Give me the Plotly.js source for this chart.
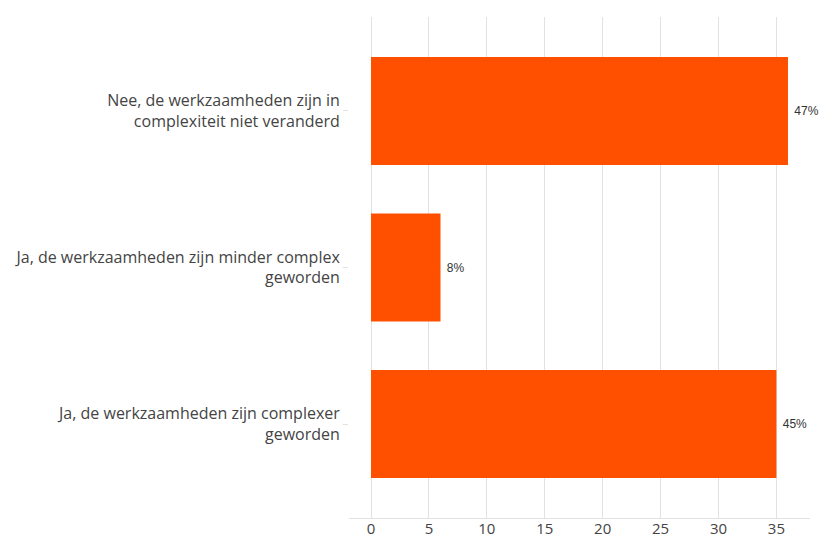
<!DOCTYPE html>
<html>
<head>
<meta charset="utf-8">
<script src="https://cdn.plot.ly/plotly-3.0.1.min.js"></script>
<style>
  html, body { margin: 0; padding: 0; background: #fff; }
  #chart { width: 819px; height: 540px; }
</style>
</head>
<body>
<div id="chart"></div>
<script>
// ── Data ──
const categories = [
    "Ja, de werkzaamheden zijn complexer<br>geworden",
    "Ja, de werkzaamheden zijn minder complex<br>geworden",
    "Nee, de werkzaamheden zijn in<br>complexiteit niet veranderd"
];
const counts = [35, 6, 36];
const pctLabels = ["45%", "8%", "47%"];
const tickVals = [0, 5, 10, 15, 20, 25, 30, 35];

// ── Chart ──
Plotly.newPlot("chart", [{
    type: "bar",
    orientation: "h",
    y: categories,
    x: counts,
    text: pctLabels.map(t => " " + t),
    textposition: "outside",
    constraintext: "none",
    cliponaxis: false,
    textfont: { family: "Arial, Liberation Sans, sans-serif", size: 12, color: "#333" },
    marker: { color: "#ff5000" },
    hoverinfo: "none"
}], {
    width: 819,
    height: 540,
    margin: { l: 349, r: 9, t: 17, b: 22 },
    paper_bgcolor: "#fff",
    plot_bgcolor: "#fff",
    bargap: 0.31,
    showlegend: false,
    font: { family: "Open Sans, sans-serif", color: "#444" },
    xaxis: {
        range: [-1.9, 37.9],
        tickvals: tickVals,
        ticks: "",
        ticklabelstandoff: -3,
        showgrid: true,
        gridcolor: "#e2e2e2",
        gridwidth: 1,
        zeroline: false,
        showline: true,
        linecolor: "#e2e2e2",
        linewidth: 1,
        tickfont: { size: 15, color: "#444" }
    },
    yaxis: {
        range: [-0.6, 2.6],
        ticks: "outside",
        ticklen: 5,
        tickcolor: "#e2e2e2",
        showgrid: false,
        zeroline: false,
        showline: false,
        tickfont: { size: 16, color: "#444" }
    }
}, { displayModeBar: false, staticPlot: true });
</script>
</body>
</html>
